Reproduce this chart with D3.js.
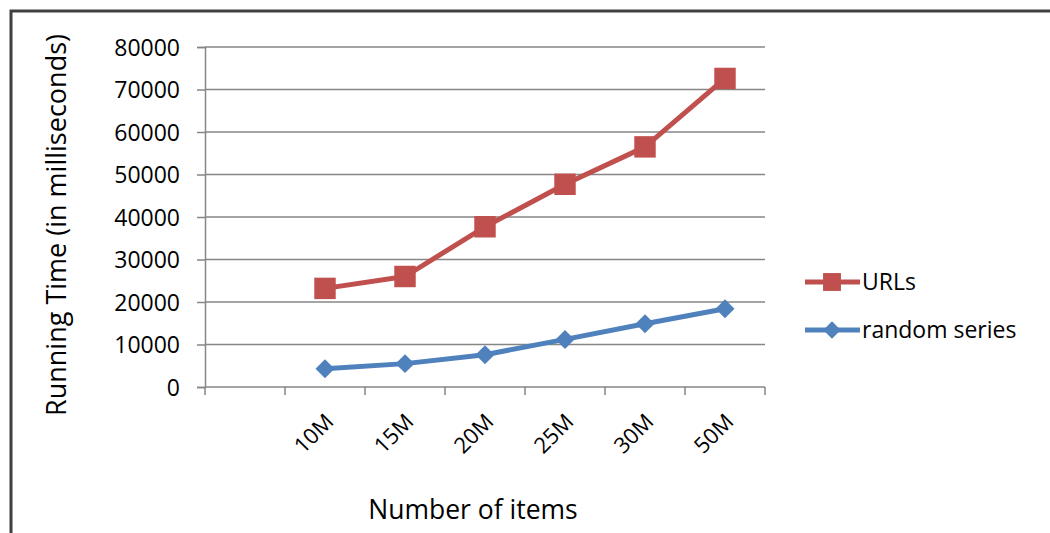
<!DOCTYPE html>
<html><head><meta charset="utf-8">
<script src="https://cdn.jsdelivr.net/npm/d3@7"></script>
<style>body{margin:0;background:#fff}svg{display:block}text{font-family:"Open Sans",sans-serif;fill:#000}</style>
</head><body><svg id="c" width="1050" height="533"></svg>
<script>
const categories = ["", "10M", "15M", "20M", "25M", "30M", "50M"];
const urls = [null, 23200, 26000, 37700, 47700, 56500, 72600];
const randomSeries = [null, 4300, 5500, 7600, 11200, 14900, 18400];
const yTicks = [0, 10000, 20000, 30000, 40000, 50000, 60000, 70000, 80000];
const seriesNames = ["URLs", "random series"];
const colors = ["#C0504D", "#4F81BD"];

const svg = d3.select("#c");
const L = 205, R = 765, T = 47, B = 387;
const x = d3.scaleBand().domain(categories.map((c,i)=>i)).range([L, R]);
const y = d3.scaleLinear().domain([0, 80000]).range([B, T]);

// outer border
svg.append("path").attr("d", "M11,533V11H1050").attr("fill","none").attr("stroke","#404040").attr("stroke-width",3);

// gridlines
svg.append("g").selectAll("line").data(yTicks.filter(d=>d>0)).join("line")
  .attr("x1", L).attr("x2", R).attr("y1", d=>y(d)).attr("y2", d=>y(d))
  .attr("stroke", "#868686").attr("stroke-width", 1.5);

// y axis
const ya = svg.append("g").attr("transform", `translate(${L},0)`)
  .call(d3.axisLeft(y).tickValues(yTicks).tickSize(8).tickPadding(17).tickFormat(d3.format("d")));
ya.select(".domain").attr("stroke","#868686").attr("stroke-width",1.5);
ya.selectAll(".tick line").attr("stroke","#868686").attr("stroke-width",1.5);
ya.selectAll("text").style("font-size","23px").attr("fill","#000").attr("dy","0.36em");

// x axis
const xa = svg.append("g").attr("transform", `translate(0,${B})`)
  .call(d3.axisBottom(x).tickSize(0).tickFormat(""));
xa.select(".domain").attr("stroke","#868686").attr("stroke-width",1.5).attr("d", `M${L},0H${R}`);
const bounds = categories.map((c,i)=>x(i)).concat([R]);
xa.selectAll(".bt").data(bounds).join("line").attr("class","bt")
  .attr("x1",d=>d).attr("x2",d=>d).attr("y1",0).attr("y2",8)
  .attr("stroke","#868686").attr("stroke-width",1.5);
svg.append("g").selectAll("text").data(categories).join("text")
  .attr("transform",(d,i)=>`translate(${x(i)+x.bandwidth()/2+10},${B+36}) rotate(-45)`)
  .attr("text-anchor","end").style("font-size","22px").text(d=>d);

// axis titles
svg.append("text").attr("x", 473).attr("y", 519).attr("text-anchor","middle").style("font-size","26.5px").text("Number of items");
svg.append("text").attr("transform","translate(66,225) rotate(-90)").attr("text-anchor","middle").style("font-size","27px").text("Running Time (in milliseconds)");

const allSeries = [urls, randomSeries];
const cx = i => x(i) + x.bandwidth()/2;
const line = d3.line().defined(d=>d[1]!=null).x(d=>cx(d[0])).y(d=>y(d[1]));
const diamond = d3.symbol(d3.symbolSquare, 180);
allSeries.forEach((s, k) => {
  const pts = s.map((v,i)=>[i,v]);
  svg.append("path").datum(pts).attr("d", line).attr("fill","none")
    .attr("stroke", colors[k]).attr("stroke-width", 5).attr("stroke-linejoin","round");
  const sym = k===0 ? d3.symbol(d3.symbolSquare, 460) : diamond;
  svg.append("g").selectAll("path").data(pts.filter(d=>d[1]!=null)).join("path")
    .attr("transform", d=>`translate(${cx(d[0])},${y(d[1])})` + (k===1?" rotate(45)":"")).attr("d", sym).attr("fill", colors[k]);
});

// legend
const legY = [282, 330];
seriesNames.forEach((n,k) => {
  const g = svg.append("g").attr("transform", `translate(805,${legY[k]})`);
  g.append("line").attr("x1",0).attr("x2",55).attr("stroke",colors[k]).attr("stroke-width",5);
  const sym = k===0 ? d3.symbol(d3.symbolSquare, 320) : d3.symbol(d3.symbolSquare, 150);
  g.append("path").attr("transform","translate(27,0)" + (k===1?" rotate(45)":"")).attr("d", sym).attr("fill", colors[k]);
  g.append("text").attr("x",57).attr("y",8).style("font-size","23px").text(n);
});
</script></body></html>
